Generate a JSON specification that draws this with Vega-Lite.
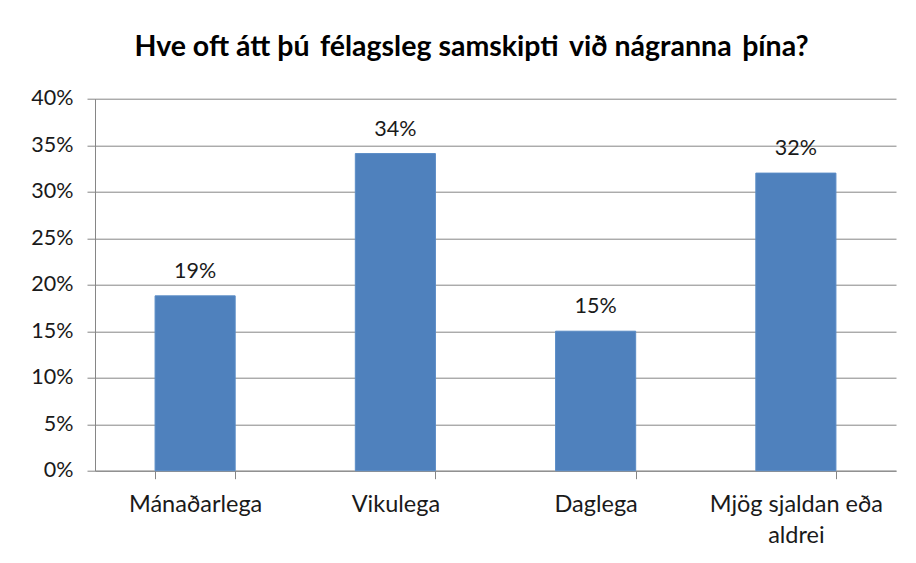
{
  "$schema": "https://vega.github.io/schema/vega-lite/v6.json",
  "width": 801,
  "height": 372,
  "autosize": {"type": "none"},
  "padding": {"left": 95, "top": 98.7, "right": 20, "bottom": 92.3},
  "background": "#ffffff",
  "title": {
    "text": "Hve oft átt þú \u2009félagsleg samskipti \u2009við nágranna \u2009þína?",
    "anchor": "middle",
    "frame": "group",
    "dx": -24,
    "font": "Lato",
    "fontSize": 28.5,
    "fontWeight": "bold",
    "color": "#000000",
    "baseline": "alphabetic",
    "offset": 3
  },
  "data": {
    "values": [
      {"flokkur": "Mánaðarlega", "hlutfall": 0.188},
      {"flokkur": "Vikulega", "hlutfall": 0.341},
      {"flokkur": "Daglega", "hlutfall": 0.150},
      {"flokkur": "Mjög sjaldan eða aldrei", "hlutfall": 0.320}
    ]
  },
  "encoding": {
    "x": {
      "field": "flokkur",
      "type": "nominal",
      "sort": null,
      "title": null,
      "scale": {"paddingInner": 0.6, "paddingOuter": 0.3},
      "axis": {
        "labelAngle": 0,
        "labelFont": "Lato",
        "labelFontSize": 23.5,
        "labelColor": "#1a1a1a",
        "labelBaseline": "alphabetic",
        "labelPadding": 33,
        "labelLineHeight": 31,
        "labelExpr": "datum.label == 'Mjög sjaldan eða aldrei' ? ['Mjög sjaldan eða', 'aldrei'] : datum.label",
        "tickBand": "extent",
        "tickSize": 8,
        "tickColor": "#868686",
        "domainColor": "#868686",
        "grid": false
      }
    },
    "y": {
      "field": "hlutfall",
      "type": "quantitative",
      "title": null,
      "scale": {"domain": [0, 0.4], "nice": false},
      "axis": {
        "values": [0, 0.05, 0.1, 0.15, 0.2, 0.25, 0.3, 0.35, 0.4],
        "format": ".0%",
        "labelFont": "Lato",
        "labelFontSize": 21.5,
        "labelColor": "#1a1a1a",
        "labelPadding": 14,
        "tickSize": 8,
        "tickColor": "#868686",
        "domainColor": "#868686",
        "gridColor": "#868686",
        "grid": true
      }
    }
  },
  "layer": [
    {
      "mark": {"type": "bar", "color": "#4F81BD", "stroke": "#5a8cc6", "strokeWidth": 1}
    },
    {
      "mark": {"type": "text", "font": "Lato", "fontSize": 21.5, "color": "#1a1a1a", "baseline": "middle", "dy": -24},
      "encoding": {
        "text": {"field": "hlutfall", "type": "quantitative", "format": ".0%"}
      }
    }
  ],
  "config": {
    "view": {"stroke": null},
    "axis": {"labelFlush": false, "labelOverlap": false}
  }
}
